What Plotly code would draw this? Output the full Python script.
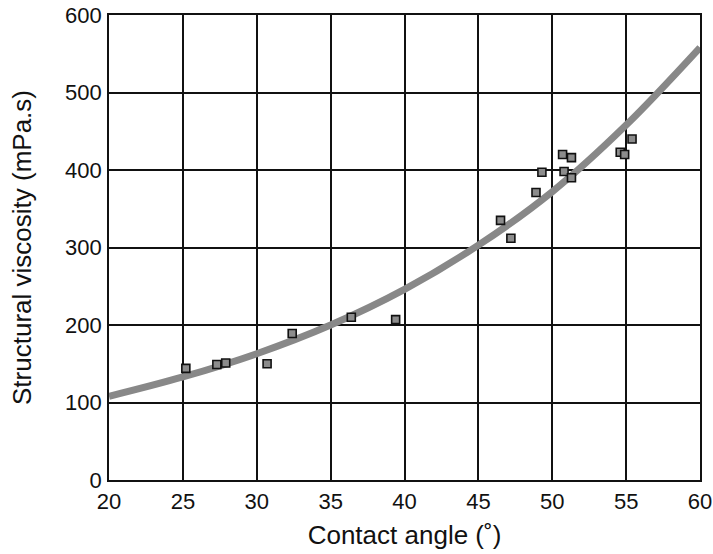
import plotly.graph_objects as go

# Measured data points (contact angle in degrees, structural viscosity in mPa.s)
angle = [25.2, 27.3, 27.9, 30.7, 32.4, 36.4, 39.4, 46.5, 47.2, 48.9, 49.3,
         50.7, 51.3, 50.8, 51.3, 54.6, 54.9, 55.4]
viscosity = [144, 149, 151, 150, 189, 210, 207, 335, 312, 371, 397,
             420, 416, 398, 390, 423, 420, 440]

# Fitted trend curve
curve_angle = [20, 25, 30, 35, 40, 45, 50, 55, 60]
curve_visc = [108, 133, 163, 200, 246, 303, 372, 458, 558]

x_ticks = [20, 25, 30, 35, 40, 45, 50, 55, 60]
y_ticks = [0, 100, 200, 300, 400, 500, 600]

FONT = "Liberation Sans, Arial, Helvetica, sans-serif"

fig = go.Figure()
fig.add_trace(go.Scatter(
    x=curve_angle, y=curve_visc, mode="lines",
    line=dict(color="#888888", width=7, shape="spline", smoothing=1.0),
    hoverinfo="skip", showlegend=False,
))
fig.add_trace(go.Scatter(
    x=angle, y=viscosity, mode="markers",
    marker=dict(symbol="square", size=8, color="#8c8c8c",
                line=dict(color="#111111", width=1.6)),
    showlegend=False,
))

fig.update_layout(
    width=713, height=554,
    margin=dict(l=109, r=13, t=15, b=74),
    paper_bgcolor="white", plot_bgcolor="white",
    font=dict(family=FONT, color="#111111", size=22),
)
fig.update_xaxes(
    range=[20, 60], tickvals=x_ticks, ticktext=[str(v) for v in x_ticks],
    showgrid=True, gridcolor="#111111", gridwidth=1.8,
    showline=True, linecolor="#111111", linewidth=1.8, mirror=True,
    zeroline=False, ticks="", ticklabelstandoff=1, automargin=False,
    ticklabeloverflow="allow",
    tickfont=dict(size=22, family=FONT),
    title=dict(text="Contact angle (˚)", font=dict(size=26, family=FONT), standoff=13),
)
fig.update_yaxes(
    range=[0, 600], tickvals=y_ticks, ticktext=[str(v) for v in y_ticks],
    showgrid=True, gridcolor="#111111", gridwidth=1.8,
    showline=True, linecolor="#111111", linewidth=1.8, mirror=True,
    zeroline=False, ticks="", ticklabelstandoff=1, automargin=False,
    ticklabeloverflow="allow",
    tickfont=dict(size=22, family=FONT),
    title=dict(text="Structural viscosity (mPa.s)", font=dict(size=26, family=FONT), standoff=26),
)

# remove the default page margin so the figure fills the window exactly
fig.write_html("out.html", config={"displayModeBar": False},
               post_script="document.body.style.margin='0';")
